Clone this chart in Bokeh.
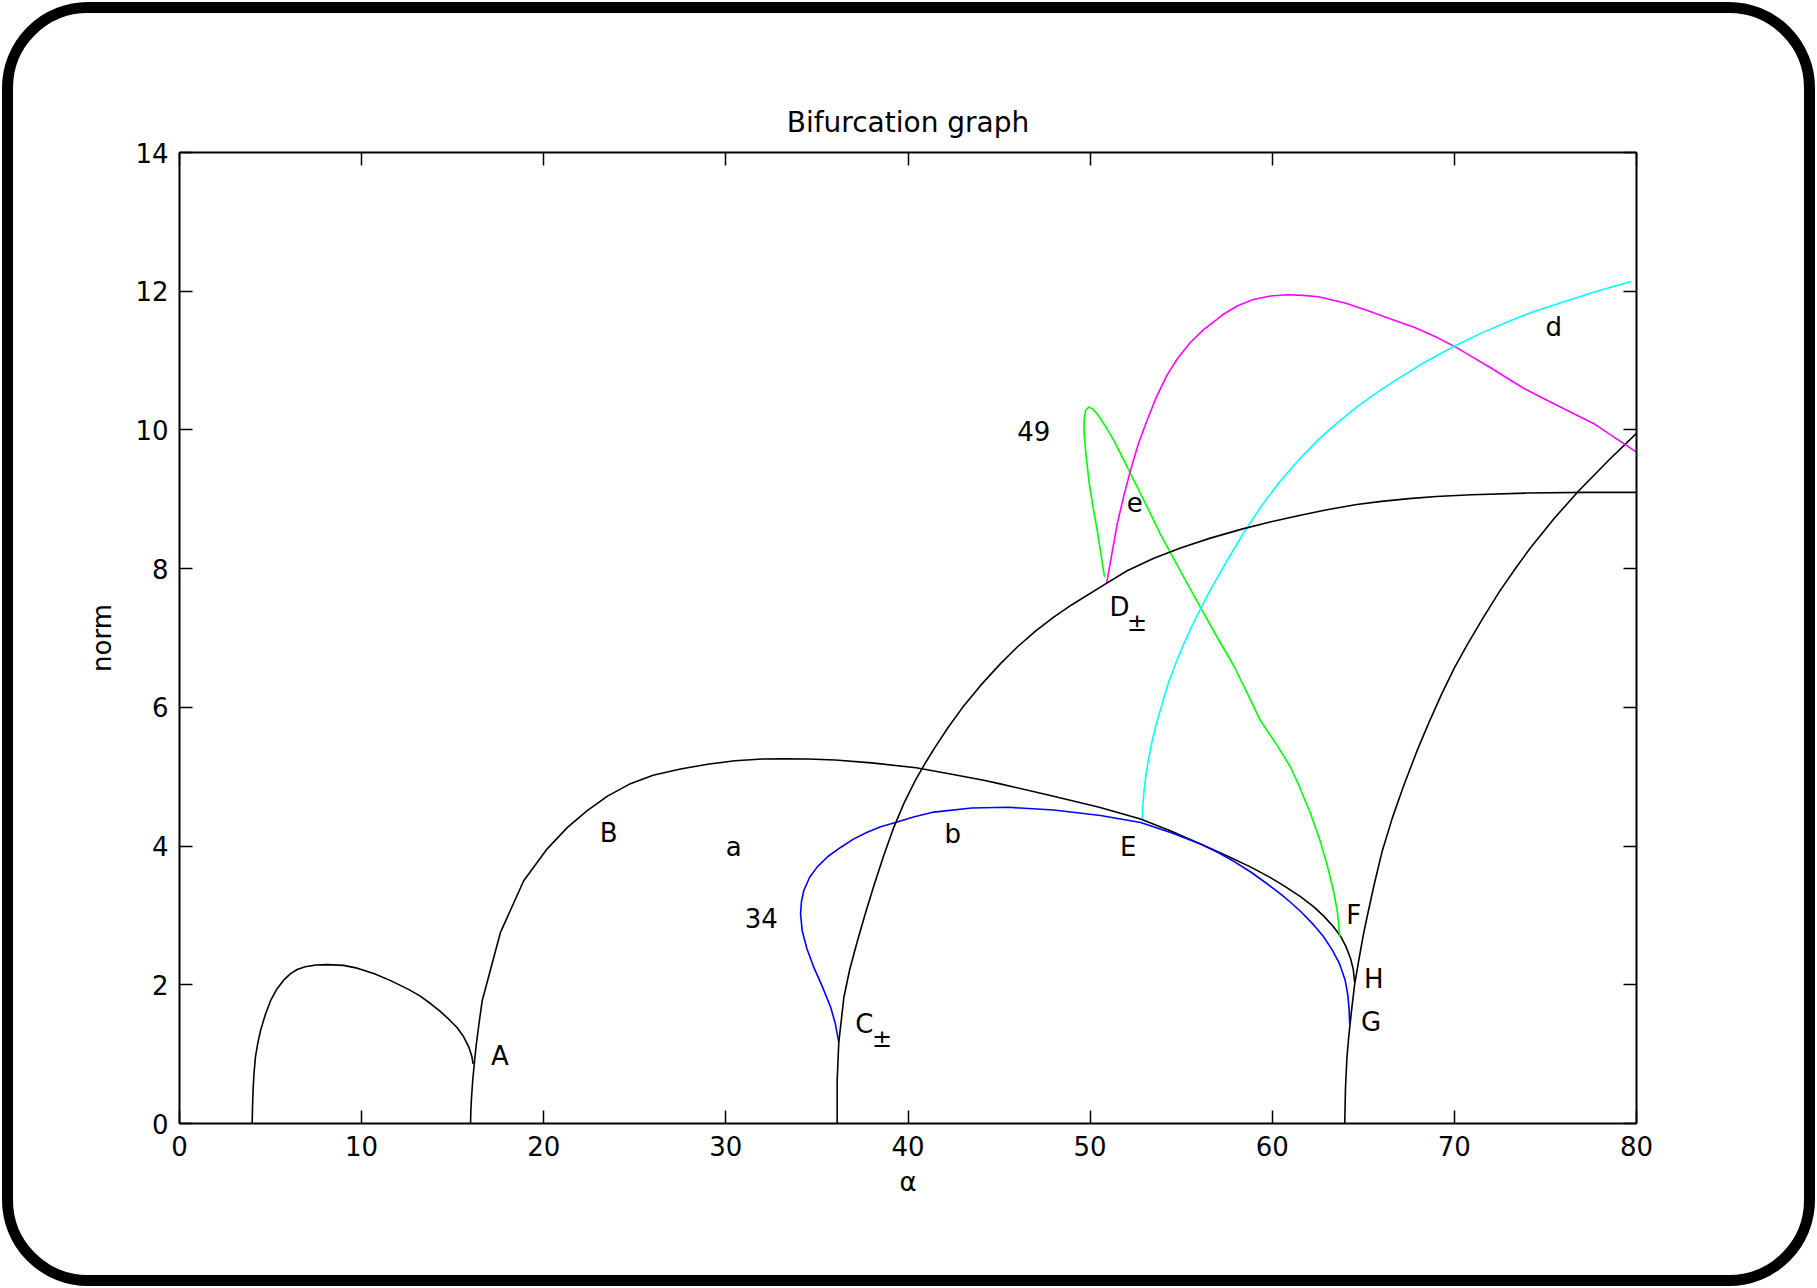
from bokeh.plotting import figure
from bokeh.models import Range1d, LinearAxis, FixedTicker
from bokeh.embed import file_html
from bokeh.resources import INLINE
from bokeh.core.properties import value

FONT = "DejaVu Sans"

# ---------------- data ----------------
x_ticks = [0, 10, 20, 30, 40, 50, 60, 70, 80]
y_ticks = [0, 2, 4, 6, 8, 10, 12, 14]

small_x = [3.99, 4.01, 4.04, 4.09, 4.17, 4.3, 4.45, 4.7, 5.0, 5.35, 5.73, 6.1, 6.46, 6.9, 7.5, 8.11, 9.0, 9.76,
           10.7, 11.59, 12.6, 13.2, 13.78, 14.3, 14.8, 15.25, 15.6, 15.89, 16.05, 16.12]
small_y = [0.0, 0.25, 0.48, 0.72, 0.96, 1.16, 1.34, 1.56, 1.77, 1.94, 2.07, 2.16, 2.22, 2.26, 2.285, 2.29, 2.28, 2.24,
           2.16, 2.06, 1.93, 1.84, 1.73, 1.62, 1.5, 1.38, 1.25, 1.10, 0.97, 0.86]

big_x = [15.98, 16.0, 16.04, 16.1, 16.2, 16.3, 16.45, 16.62, 17.63, 18.9, 20.19, 21.3, 22.39, 23.5, 24.76, 26.0,
         27.51, 29.0, 30.5, 32.0, 33.1, 34.5, 36.0, 38.0, 40.45, 42.33, 44.16, 45.0, 47.82, 50.5, 52.77, 54.5,
         56.06, 57.5, 58.8, 59.8, 60.63, 61.55, 62.3, 62.83, 63.35, 63.75, 64.05, 64.3, 64.45, 64.52]
big_y = [0.0, 0.2, 0.4, 0.62, 0.9, 1.15, 1.45, 1.77, 2.76, 3.5, 3.96, 4.27, 4.51, 4.72, 4.90, 5.02,
         5.11, 5.18, 5.23, 5.255, 5.26, 5.255, 5.24, 5.2, 5.13, 5.04, 4.95, 4.9, 4.73, 4.56, 4.39, 4.21,
         4.03, 3.86, 3.70, 3.56, 3.43, 3.27, 3.12, 2.99, 2.84, 2.70, 2.55, 2.38, 2.22, 2.04]

c_x = [36.11, 36.11, 36.2, 36.48, 36.8, 37.21, 37.65, 38.13, 38.65, 39.22, 39.8, 40.41, 41.0, 41.5, 42.2, 43.0,
       44.0, 45.08, 46.0, 47.0, 48.0, 49.0, 50.85, 52.03, 53.5, 55.0, 56.6, 58.33, 60.0, 61.55, 63.0, 64.64,
       66.0, 67.5, 69.0, 70.94, 74.0, 77.24, 80.0]
c_y = [0.0, 0.62, 1.17, 1.82, 2.22, 2.62, 3.02, 3.43, 3.85, 4.27, 4.63, 4.95, 5.22, 5.43, 5.71, 6.0,
       6.32, 6.63, 6.87, 7.1, 7.3, 7.48, 7.78, 7.97, 8.15, 8.3, 8.44, 8.57, 8.68, 8.77, 8.85, 8.925,
       8.97, 9.01, 9.04, 9.065, 9.09, 9.10, 9.10]

right_x = [63.98, 64.02, 64.1, 64.2, 64.35, 64.52, 64.75, 65.0, 65.2, 65.6, 66.04, 66.6, 67.2, 67.96, 68.6, 69.3,
           70.0, 70.7, 71.6, 72.5, 73.4, 74.18, 75.5, 76.82, 78.5, 80.0]
right_y = [0.0, 0.5, 0.95, 1.25, 1.62, 2.0, 2.35, 2.72, 2.97, 3.45, 3.93, 4.41, 4.86, 5.38, 5.78, 6.19,
           6.57, 6.9, 7.3, 7.68, 8.02, 8.3, 8.73, 9.12, 9.57, 9.95]

blue_x = [36.2, 36.0, 35.75, 35.3, 34.83, 34.45, 34.19, 34.1, 34.15, 34.28, 34.6, 35.02, 35.6, 36.3, 37.0, 37.76,
          38.5, 39.32, 40.3, 41.42, 43.5, 45.5, 48.0, 50.57, 52.77, 54.5, 56.06, 57.0, 57.89, 58.8, 59.7, 60.45,
          61.0, 61.55, 62.29, 62.8, 63.3, 63.7, 64.0, 64.15, 64.22, 64.25]
blue_y = [1.17, 1.45, 1.68, 1.97, 2.25, 2.52, 2.78, 3.02, 3.2, 3.36, 3.55, 3.70, 3.85, 3.98, 4.1, 4.2,
          4.28, 4.34, 4.42, 4.49, 4.55, 4.56, 4.52, 4.44, 4.34, 4.19, 4.03, 3.91, 3.78, 3.63, 3.46, 3.31,
          3.19, 3.06, 2.86, 2.70, 2.50, 2.30, 2.07, 1.85, 1.65, 1.44]

green_x = [50.79, 50.6, 50.39, 50.15, 49.93, 49.78, 49.66, 49.67, 49.75, 49.93, 50.15, 50.39, 50.85, 51.3, 51.75,
           52.22, 52.77, 53.32, 53.85, 54.41, 55.2, 56.06, 57.0, 57.89, 58.6, 59.35, 60.2, 61.0, 61.55, 62.1, 62.6,
           63.02, 63.35, 63.57, 63.71]
green_y = [7.88, 8.2, 8.55, 8.9, 9.27, 9.63, 9.99, 10.15, 10.28, 10.33, 10.3, 10.23, 10.05, 9.85, 9.62,
           9.37, 9.08, 8.79, 8.5, 8.23, 7.85, 7.44, 7.0, 6.6, 6.22, 5.81, 5.48, 5.14, 4.82, 4.47, 4.1,
           3.72, 3.37, 3.07, 2.69]

magenta_x = [50.9, 51.2, 51.49, 51.85, 52.22, 52.65, 53.13, 53.6, 54.2, 54.8, 55.5, 56.2, 57.28, 58.1, 58.96,
             59.9, 60.85, 61.7, 62.53, 64.0, 65.26, 66.5, 67.79, 69.0, 70.1, 71.0, 71.97, 73.0, 73.88, 75.14,
             77.66, 80.0]
magenta_y = [7.78, 8.22, 8.65, 9.05, 9.42, 9.8, 10.14, 10.45, 10.78, 11.03, 11.26, 11.44, 11.66, 11.79, 11.88,
             11.93, 11.95, 11.94, 11.92, 11.83, 11.72, 11.6, 11.48, 11.34, 11.19, 11.05, 10.90, 10.73, 10.59, 10.42,
             10.09, 9.68]

cyan_x = [52.86, 52.9, 52.97, 53.07, 53.2, 53.38, 53.6, 53.9, 54.23, 54.65, 55.1, 55.6, 56.06, 56.6, 57.2, 57.8,
          58.44, 59.4, 60.43, 61.5, 62.53, 63.6, 64.64, 65.7, 66.74, 68.4, 70.1, 71.6, 73.04, 74.3, 75.56, 77.6, 79.7]
cyan_y = [4.39, 4.6, 4.82, 5.03, 5.24, 5.48, 5.73, 6.0, 6.3, 6.6, 6.89, 7.18, 7.42, 7.69, 7.97, 8.24,
          8.52, 8.9, 9.26, 9.58, 9.86, 10.11, 10.33, 10.53, 10.71, 10.98, 11.22, 11.41, 11.57, 11.7, 11.81, 11.98, 12.14]

label_text = ["A", "B", "a", "34", "C", "b", "E", "F", "H", "G", "D", "e", "49", "d"]
label_x = [17.59, 23.57, 30.43, 31.94, 37.6, 42.46, 52.09, 64.48, 65.58, 65.43, 51.61, 52.45, 46.91, 75.46]
label_y = [0.98, 4.19, 3.98, 2.97, 1.44, 4.18, 3.99, 3.0, 2.09, 1.46, 7.44, 8.96, 9.99, 11.48]

sub_text = ["±", "±"]
sub_x = [38.58, 52.58]
sub_y = [1.22, 7.21]

# ---------------- figure ----------------
W, H = 1817, 1288
p = figure(width=W, height=H, output_backend="svg", toolbar_location=None,
           x_range=Range1d(0, 80), y_range=Range1d(0, 14),
           min_border_left=179, min_border_right=W - 1636, min_border_top=152, min_border_bottom=H - 1123,
           title="Bifurcation graph", x_axis_label="α", y_axis_label="norm")
p.styles = {"outline": "11px solid black", "outline-offset": "-13px", "border-radius": "88px"}

p.grid.visible = False
p.outline_line_color = None
p.background_fill_color = "white"
p.border_fill_color = "white"
p.border_fill_alpha = 0.0

p.title.align = "center"
p.title.text_font = FONT
p.title.text_font_size = "28px"
p.title.text_font_style = "normal"
p.title.text_color = "black"
p.title.standoff = 27

p.add_layout(LinearAxis(), "above")
p.add_layout(LinearAxis(), "right")

for ax in p.xaxis:
    ax.ticker = FixedTicker(ticks=x_ticks)
for ax in p.yaxis:
    ax.ticker = FixedTicker(ticks=y_ticks)

for ax in p.axis:
    ax.major_tick_in = 13
    ax.major_tick_out = 0
    ax.minor_tick_line_color = None
    ax.axis_line_width = 2
    ax.axis_line_color = "black"
    ax.major_tick_line_width = 1.5
    ax.major_tick_line_color = "black"
    ax.major_label_text_font = FONT
    ax.major_label_text_font_size = "26px"
    ax.major_label_text_color = "black"
    ax.axis_label_text_font = FONT
    ax.axis_label_text_font_size = "26px"
    ax.axis_label_text_font_style = "normal"
    ax.axis_label_text_color = "black"

# mirrored axes: ticks only, no labels
for ax in p.above + p.right:
    if isinstance(ax, LinearAxis):
        ax.major_label_text_color = None
        ax.major_label_standoff = 0

p.below[0].major_label_standoff = 12
p.below[0].axis_label_standoff = 8
p.left[0].major_label_standoff = 11
p.left[0].axis_label_standoff = 15

lw = 1.6
p.line(small_x, small_y, line_color="black", line_width=lw, line_join="round")
p.line(big_x, big_y, line_color="black", line_width=lw, line_join="round")
p.line(right_x, right_y, line_color="black", line_width=lw, line_join="round")
p.line(blue_x, blue_y, line_color="#0000ff", line_width=lw, line_join="round")
p.line(green_x, green_y, line_color="#00ff00", line_width=lw, line_join="round")
p.line(magenta_x, magenta_y, line_color="#ff00ff", line_width=lw, line_join="round")
p.line(cyan_x, cyan_y, line_color="#00ffff", line_width=lw, line_join="round")
p.line(c_x, c_y, line_color="black", line_width=lw, line_join="round")

p.text(x=label_x, y=label_y, text=label_text, text_font=value(FONT), text_font_size="26px",
       text_align="center", text_baseline="middle", text_color="black")
p.text(x=sub_x, y=sub_y, text=sub_text, text_font=value(FONT), text_font_size="24px",
       text_align="center", text_baseline="middle", text_color="black")

open("out.html", "w").write(file_html(p, INLINE))
